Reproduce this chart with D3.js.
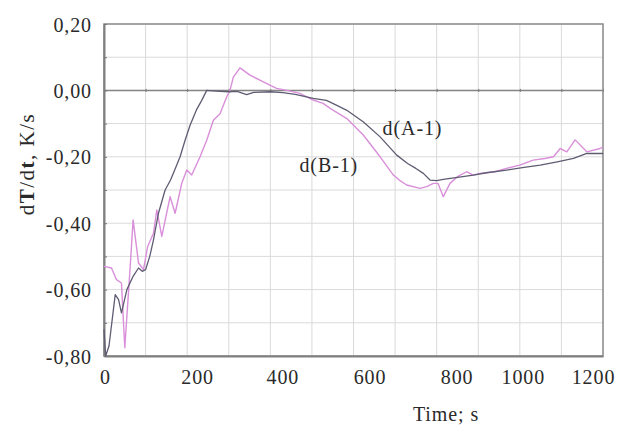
<!DOCTYPE html>
<html><head><meta charset="utf-8">
<script src="https://cdn.jsdelivr.net/npm/d3@7"></script>
<style>body{margin:0;background:#fff}svg{display:block}</style>
</head><body><svg id="c" width="622" height="425"></svg>
<script>
// ---- data ----
const timeA=[0,4,12,27,35,42,55,70,83,92,100,110,119,131,147,160,170,183,195,207,223,235,247,270,300,320,343,360,400,430,460,503,535,560,584,624,664,704,730,750,768,784,800,816,850,888,920,968,1010,1049,1090,1129,1161,1200];
const valA=[-0.72,-0.80,-0.77,-0.615,-0.63,-0.67,-0.60,-0.56,-0.535,-0.545,-0.54,-0.50,-0.45,-0.37,-0.30,-0.27,-0.24,-0.20,-0.15,-0.105,-0.057,-0.03,0.0,-0.002,-0.004,-0.003,-0.013,-0.006,-0.004,-0.007,-0.012,-0.024,-0.03,-0.045,-0.06,-0.095,-0.14,-0.195,-0.22,-0.235,-0.25,-0.27,-0.272,-0.268,-0.262,-0.255,-0.248,-0.24,-0.232,-0.225,-0.215,-0.205,-0.19,-0.19];
const timeB=[0,18,30,42,50,62,70,83,95,105,119,127,139,159,171,187,199,211,231,247,263,279,295,303,311,327,351,383,415,440,471,503,527,544,584,624,664,696,712,728,760,776,792,803,816,832,850,872,888,904,940,968,1000,1032,1060,1081,1097,1113,1133,1161,1193,1200];
const valB=[-0.53,-0.535,-0.57,-0.58,-0.775,-0.55,-0.39,-0.52,-0.54,-0.47,-0.43,-0.36,-0.44,-0.32,-0.37,-0.28,-0.24,-0.255,-0.2,-0.15,-0.09,-0.07,-0.02,0.0,0.04,0.068,0.046,0.026,0.006,0.0,-0.009,-0.029,-0.039,-0.054,-0.085,-0.135,-0.2,-0.255,-0.272,-0.285,-0.295,-0.29,-0.28,-0.28,-0.32,-0.28,-0.26,-0.245,-0.255,-0.25,-0.245,-0.235,-0.225,-0.21,-0.205,-0.2,-0.175,-0.185,-0.149,-0.185,-0.175,-0.17];
const seriesNames=["d(A-1)","d(B-1)"];
const xTicks=[0,200,400,600,800,1000,1200];
const yTicks=[0.2,0,-0.2,-0.4,-0.6,-0.8];
const xGrid=d3.range(0,1201,100);
const yGrid=d3.range(-8,3,1).map(d=>d/10);
const xTitle="Time; s";

// ---- layout ----
const svg=d3.select("#c");
const L=104,T=24,W=499,H=332;
const x=d3.scaleLinear().domain([0,1200]).range([L,L+W]);
const y=d3.scaleLinear().domain([-0.8,0.2]).range([T+H,T]);
const font="'Liberation Serif','Times New Roman',serif";
const txt="#2a2a2a";
const fmt=v=>d3.format(".2f")(v).replace(".",",").replace("−","-");
// the scanned figure's x labels sit slightly off their ticks
const xLabelShift=[1,10,12,16,20,3,-10];

// grid
const g=svg.append("g");
g.selectAll(".vx").data(xGrid).join("line")
 .attr("x1",d=>x(d)).attr("x2",d=>x(d)).attr("y1",T).attr("y2",T+H)
 .attr("stroke","#dadada").attr("stroke-width",1);
g.selectAll(".hy").data(yGrid).join("line")
 .attr("x1",L).attr("x2",L+W).attr("y1",d=>y(d)).attr("y2",d=>y(d))
 .attr("stroke","#dadada").attr("stroke-width",1);
// zero line
g.append("line").attr("x1",L).attr("x2",L+W).attr("y1",y(0)).attr("y2",y(0))
 .attr("stroke","#858585").attr("stroke-width",1.5);
// small ticks on zero line
g.append("g").attr("transform",`translate(0,${y(0)})`)
 .call(d3.axisBottom(x).tickValues(xGrid).tickSize(3).tickFormat(""))
 .call(a=>a.select(".domain").remove())
 .selectAll("line").attr("stroke","#777").attr("transform","translate(0,-1.5)");

// frame
svg.append("rect").attr("x",L).attr("y",T).attr("width",W).attr("height",H)
 .attr("fill","none").attr("stroke","#8c8c8c").attr("stroke-width",1.5);

// axes
const ya=svg.append("g").attr("transform",`translate(${L},0)`)
 .call(d3.axisLeft(y).tickValues(yTicks).tickSize(0).tickPadding(12).tickFormat(fmt));
ya.select(".domain").attr("stroke","#808080").attr("stroke-width",2);
ya.selectAll("text").attr("font-family",font).attr("font-size",20).attr("fill",txt)
 .attr("letter-spacing","0.9px").attr("dy","0.35em");
svg.append("g").attr("transform",`translate(${L},0)`)
 .call(d3.axisRight(y).tickValues(yGrid).tickSize(3).tickFormat(""))
 .call(a=>a.select(".domain").remove())
 .selectAll("line").attr("stroke","#777");

const xa=svg.append("g").attr("transform",`translate(0,${T+H})`)
 .call(d3.axisBottom(x).tickValues(xTicks).tickSize(0).tickPadding(14).tickFormat(d3.format("d")));
xa.select(".domain").attr("stroke","#808080").attr("stroke-width",2);
xa.selectAll("text").attr("font-family",font).attr("font-size",20).attr("fill",txt)
 .attr("letter-spacing","0.9px").attr("dx",(d,i)=>xLabelShift[i]);

// titles
svg.append("text").attr("x",446).attr("y",421).attr("text-anchor","middle")
 .attr("font-family",font).attr("font-size",20).attr("fill",txt).attr("letter-spacing","0.9px").text(xTitle);
const yl=svg.append("text").attr("transform","translate(34,164) rotate(-90)").attr("text-anchor","middle")
 .attr("font-family",font).attr("font-size",21).attr("fill",txt).attr("letter-spacing","1.5px");
[["d",400],["T",700],["/d",400],["t",700],[", K/s",400]].forEach(([s,w])=>yl.append("tspan").attr("font-weight",w).text(s));

// lines
const line=d3.line().x(d=>x(d[0])).y(d=>y(d[1])).curve(d3.curveLinear);
const dataA=timeA.map((t,i)=>[t,valA[i]]);
const dataB=timeB.map((t,i)=>[t,valB[i]]);
svg.append("path").datum(dataB).attr("d",line).attr("fill","none")
 .attr("stroke","#d98fd9").attr("stroke-width",1.4).attr("stroke-linejoin","round");
svg.append("path").datum(dataA).attr("d",line).attr("fill","none")
 .attr("stroke","#5e5c72").attr("stroke-width",1.3).attr("stroke-linejoin","round");

// series labels
svg.append("text").attr("x",x(670)).attr("y",y(-0.135)).attr("font-family",font).attr("font-size",20)
 .attr("fill",txt).attr("letter-spacing","0.9px").text(seriesNames[0]);
svg.append("text").attr("x",x(470)).attr("y",y(-0.246)).attr("font-family",font).attr("font-size",20)
 .attr("fill",txt).attr("letter-spacing","0.9px").text(seriesNames[1]);
</script></body></html>
